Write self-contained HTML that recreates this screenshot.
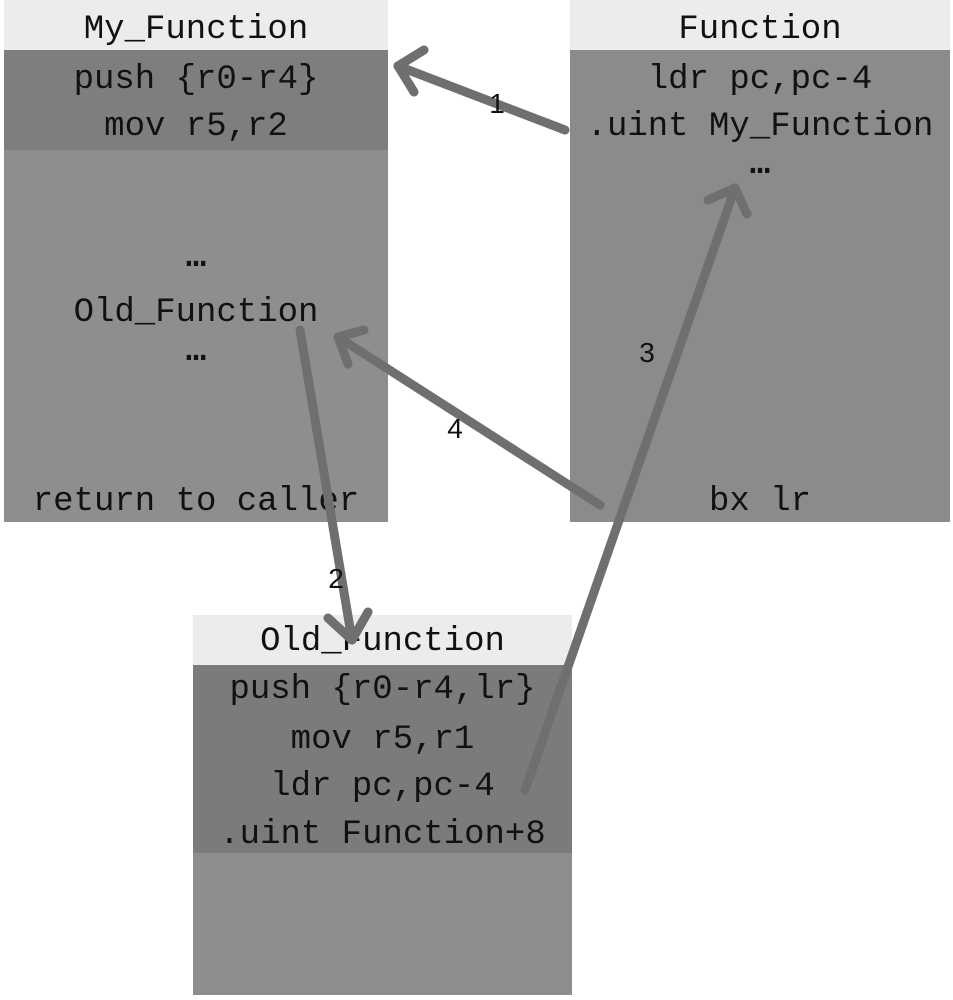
<!DOCTYPE html>
<html><head><style>
body{margin:0;width:953px;height:1000px;background:#fff;position:relative;overflow:hidden;font-family:"Liberation Mono",monospace;}
.b{position:absolute;}
.t{position:absolute;left:0;right:0;text-align:center;font-size:34px;line-height:40px;color:#111;white-space:pre;}
.e{font-weight:bold;}
</style></head><body>
<!-- My_Function -->
<div class="b" style="left:4px;top:0;width:384px;height:50px;background:#ececec"></div>
<div class="b" style="left:4px;top:50px;width:384px;height:100px;background:#7e7e7e"></div>
<div class="b" style="left:4px;top:150px;width:384px;height:372px;background:#8e8e8e"></div>
<div class="b" style="left:4px;top:0;width:384px;height:522px">
<div class="t" style="top:10px">My_Function</div>
<div class="t" style="top:60px">push {r0-r4}</div>
<div class="t" style="top:107px">mov r5,r2</div>
<div class="t e" style="top:238px">…</div>
<div class="t" style="top:293px">Old_Function</div>
<div class="t e" style="top:332px">…</div>
<div class="t" style="top:482px">return to caller</div>
</div>
<!-- Function -->
<div class="b" style="left:570px;top:0;width:380px;height:50px;background:#ececec"></div>
<div class="b" style="left:570px;top:50px;width:380px;height:472px;background:#8b8b8b"></div>
<div class="b" style="left:570px;top:0;width:380px;height:522px">
<div class="t" style="top:10px">Function</div>
<div class="t" style="top:60px">ldr pc,pc-4</div>
<div class="t" style="top:107px">.uint My_Function</div>
<div class="t e" style="top:145px">…</div>
<div class="t" style="top:482px">bx lr</div>
</div>
<!-- Old_Function -->
<div class="b" style="left:193px;top:615px;width:379px;height:50px;background:#ececec"></div>
<div class="b" style="left:193px;top:665px;width:379px;height:188px;background:#7b7b7b"></div>
<div class="b" style="left:193px;top:853px;width:379px;height:142px;background:#8d8d8d"></div>
<div class="b" style="left:193px;top:615px;width:379px;height:380px">
<div class="t" style="top:7px">Old_Function</div>
<div class="t" style="top:55px">push {r0-r4,lr}</div>
<div class="t" style="top:105px">mov r5,r1</div>
<div class="t" style="top:152px">ldr pc,pc-4</div>
<div class="t" style="top:200px">.uint Function+8</div>
</div>
<svg class="b" style="left:0;top:0" width="953" height="1000">
<g stroke="#6f6f6f" stroke-width="9" fill="none" stroke-linecap="round" stroke-linejoin="round">
<line x1="565" y1="130" x2="398" y2="66"/><polyline points="424,50 398,66 414,92"/>
<line x1="600" y1="505" x2="338" y2="337"/><polyline points="364,330 338,337 348,364"/>
<line x1="525" y1="790" x2="735" y2="188"/><polyline points="708,200 735,188 747,214"/>
<line x1="300" y1="330" x2="352" y2="640"/><polyline points="328,618 352,640 368,612"/>
</g>
<g font-family="Liberation Sans,sans-serif" font-size="28" fill="#111" text-anchor="middle">
<text x="497" y="113">1</text><text x="455" y="438">4</text><text x="647" y="362">3</text><text x="336" y="588">2</text>
</g>
</svg>
</body></html>
